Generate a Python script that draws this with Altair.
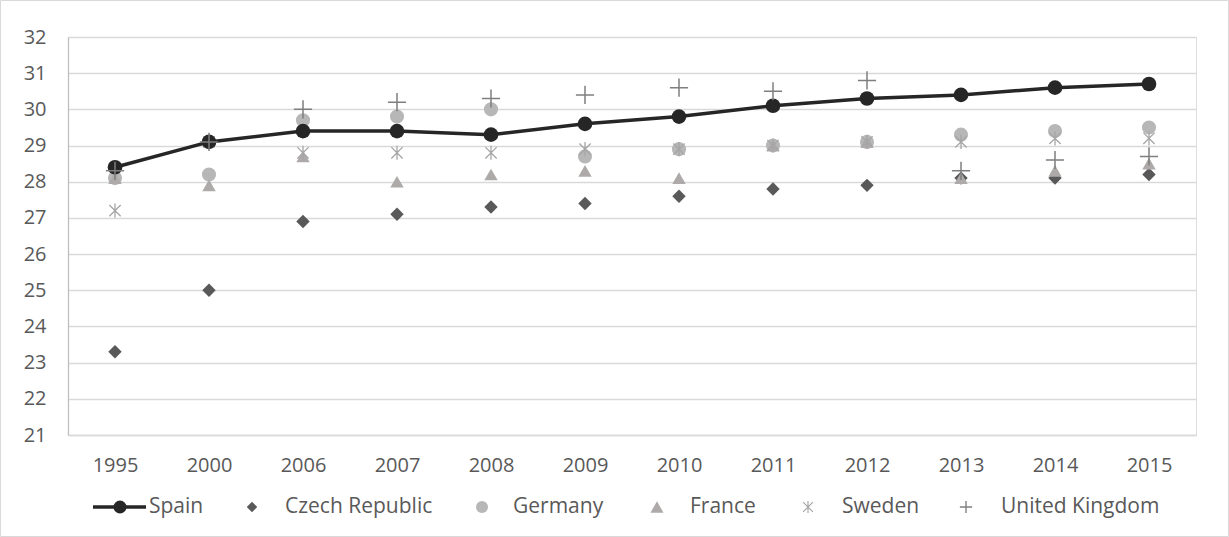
import altair as alt
import pandas as pd

# Series values by year
years = ["1995", "2000", "2006", "2007", "2008", "2009", "2010", "2011", "2012", "2013", "2014", "2015"]
spain = [28.4, 29.1, 29.4, 29.4, 29.3, 29.6, 29.8, 30.1, 30.3, 30.4, 30.6, 30.7]
czech = [23.3, 25.0, 26.9, 27.1, 27.3, 27.4, 27.6, 27.8, 27.9, 28.1, 28.1, 28.2]
germany = [28.1, 28.2, 29.7, 29.8, 30.0, 28.7, 28.9, 29.0, 29.1, 29.3, 29.4, 29.5]
france = [28.1, 27.9, 28.7, 28.0, 28.2, 28.3, 28.1, 29.0, 29.1, 28.1, 28.3, 28.5]
sweden = [27.2, 29.1, 28.8, 28.8, 28.8, 28.9, 28.9, 29.0, 29.1, 29.1, 29.2, 29.2]
uk = [28.3, 29.1, 30.0, 30.2, 30.3, 30.4, 30.6, 30.5, 30.8, 28.3, 28.6, 28.7]
y_ticks = list(range(21, 33))

FONT = "Open Sans"
TEXT = "#595959"
W, H = 1128, 398
PAD_L, PAD_T = 68, 37

ASTERISK = "M-0.8,-0.8L0.8,0.8M-0.8,0.8L0.8,-0.8M0,-1L0,1"
PLUS = "M-1,0L1,0M0,-1L0,1"

# name, values, shape, colour, filled, size, stroke width, legend marker x, legend text x, legend size
series = [
    ("Czech Republic", czech, "diamond", "#595959", True, 180, 0, 252, 285, 110),
    ("Germany", germany, "circle", "#b7b7b7", True, 200, 0, 482, 513, 144),
    ("France", france, "triangle-up", "#aeaaaa", True, 180, 0, 657, 690, 170),
    ("Sweden", sweden, ASTERISK, "#a6a6a6", False, 200, 1.3, 808, 842, 150),
    ("United Kingdom", uk, PLUS, "#7f7f7f", False, 330, 1.5, 966, 1001, 150),
]

x_enc = alt.X("year:N", sort=years, scale=alt.Scale(type="point", padding=0.5),
              axis=alt.Axis(title=None, labelAngle=0, ticks=False, domainColor="#d9d9d9",
                            domainWidth=1.3, labelPadding=20, labelFontSize=20,
                            labelColor=TEXT, labelFont=FONT))
y_enc = alt.Y("value:Q", scale=alt.Scale(domain=[21, 32], nice=False, zero=False),
              axis=alt.Axis(title=None, values=y_ticks, ticks=False, domainColor="#bfbfbf",
                            domainWidth=1.3, gridColor="#d9d9d9", gridWidth=1.3,
                            labelPadding=22, labelFontSize=20, labelColor=TEXT,
                            labelFont=FONT))

layers = []
one = pd.DataFrame({"k": [0]})

# Outer frame around the whole figure
frame = alt.Chart(one).mark_rect(filled=False, stroke="#d9d9d9", strokeWidth=1).encode(
    x=alt.value(0.5 - PAD_L), x2=alt.value(1228.5 - PAD_L),
    y=alt.value(0.5 - PAD_T), y2=alt.value(536.5 - PAD_T))
layers.append(frame)

for name, vals, shape, color, filled, size, sw, lx, tx, lsize in series:
    df = pd.DataFrame({"year": years, "value": vals})
    props = dict(shape=shape, size=size, filled=filled, opacity=1)
    if filled:
        props.update(color=color)
    else:
        props.update(stroke=color, strokeWidth=sw, fill=None)
    pts = alt.Chart(df).mark_point(**props).encode(x=x_enc, y=y_enc)
    if name == "United Kingdom":
        # Spain line sits below the UK markers
        sp = pd.DataFrame({"year": years, "value": spain})
        layers.append(alt.Chart(sp).mark_line(color="#262626", strokeWidth=3.5).encode(x=x_enc, y=y_enc))
        layers.append(alt.Chart(sp).mark_point(shape="circle", size=215, filled=True, color="#262626",
                                               opacity=1).encode(x=x_enc, y=y_enc))
    layers.append(pts)

# Legend along the bottom
LY = 507 - PAD_T
LEG_FONT = 21
layers.append(alt.Chart(one).mark_rule(color="#262626", strokeWidth=3.5).encode(
    x=alt.value(93 - PAD_L), x2=alt.value(146 - PAD_L), y=alt.value(LY)))
layers.append(alt.Chart(one).mark_point(shape="circle", size=170, filled=True, color="#262626",
                                        opacity=1).encode(x=alt.value(120 - PAD_L), y=alt.value(LY)))
layers.append(alt.Chart(one).mark_text(text="Spain", align="left", baseline="middle", font=FONT,
                                       fontSize=LEG_FONT, color=TEXT).encode(
    x=alt.value(149 - PAD_L), y=alt.value(LY)))
for name, vals, shape, color, filled, size, sw, lx, tx, lsize in series:
    props = dict(shape=shape, size=lsize, filled=filled, opacity=1)
    if filled:
        props.update(color=color)
    else:
        props.update(stroke=color, strokeWidth=sw * 0.9, fill=None)
    layers.append(alt.Chart(one).mark_point(**props).encode(
        x=alt.value(lx - PAD_L), y=alt.value(LY)))
    layers.append(alt.Chart(one).mark_text(text=name, align="left", baseline="middle", font=FONT,
                                           fontSize=LEG_FONT, color=TEXT).encode(
        x=alt.value(tx - PAD_L), y=alt.value(LY)))

chart = alt.layer(*layers).properties(
    width=W, height=H,
    autosize=alt.AutoSizeParams(type="none"),
    padding={"left": PAD_L, "top": PAD_T, "right": 1229 - PAD_L - W, "bottom": 537 - PAD_T - H},
).configure_view(stroke=None).configure(background="white")

chart.save("out.html", embed_options={"renderer": "svg", "actions": False})
